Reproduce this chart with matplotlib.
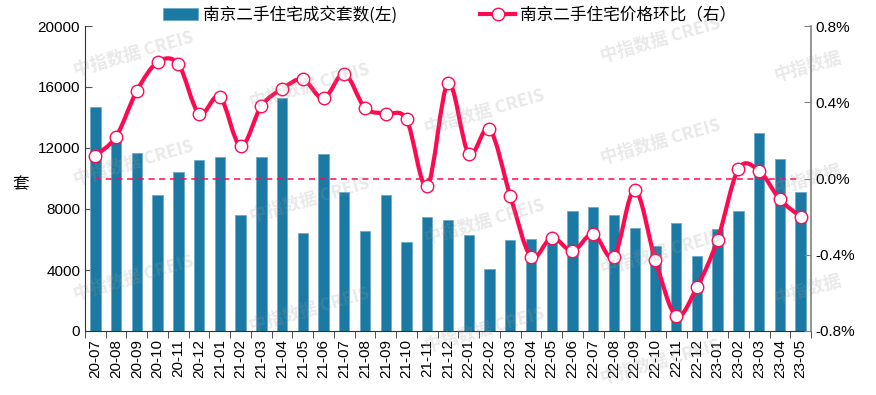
import numpy as np
import matplotlib.pyplot as plt
from matplotlib.path import Path
from matplotlib.patches import PathPatch, Patch
from matplotlib.lines import Line2D

months = ['20-07', '20-08', '20-09', '20-10', '20-11', '20-12',
          '21-01', '21-02', '21-03', '21-04', '21-05', '21-06',
          '21-07', '21-08', '21-09', '21-10', '21-11', '21-12',
          '22-01', '22-02', '22-03', '22-04', '22-05', '22-06',
          '22-07', '22-08', '22-09', '22-10', '22-11', '22-12',
          '23-01', '23-02', '23-03', '23-04', '23-05']

# 成交套数 (left axis)
volume = [14700, 12500, 11700, 8950, 10400, 11200,
          11400, 7600, 11400, 15300, 6400, 11600,
          9100, 6550, 8950, 5850, 7500, 7300,
          6300, 4050, 5950, 6050, 5950, 7850,
          8150, 7600, 6750, 5600, 7050, 4900,
          6700, 7850, 13000, 11300, 9100]

# 价格环比 % (right axis)
price_mom = [0.12, 0.22, 0.46, 0.61, 0.60, 0.34,
             0.43, 0.17, 0.38, 0.47, 0.52, 0.42,
             0.55, 0.37, 0.34, 0.31, -0.04, 0.50,
             0.13, 0.26, -0.09, -0.41, -0.31, -0.38,
             -0.29, -0.41, -0.06, -0.43, -0.72, -0.57,
             -0.32, 0.05, 0.04, -0.11, -0.20]

left_ticks = [0, 4000, 8000, 12000, 16000, 20000]
right_ticks = [-0.8, -0.4, 0.0, 0.4, 0.8]

bar_label = '南京二手住宅成交套数(左)'
line_label = '南京二手住宅价格环比（右）'

BAR_COLOR = '#1a7aa4'
LINE_COLOR = '#ff0a50'

plt.rcParams['font.family'] = ['Liberation Sans', 'Noto Sans CJK SC', 'DejaVu Sans']


def smooth_path(xs, ys):
    # excel style smoothed line, cubic bezier through every point
    pts = list(zip(xs, ys))
    verts = [pts[0]]
    codes = [Path.MOVETO]
    n = len(pts)
    for i in range(n - 1):
        p0 = pts[i - 1] if i > 0 else pts[i]
        p1 = pts[i]
        p2 = pts[i + 1]
        p3 = pts[i + 2] if i + 2 < n else pts[i + 1]
        c1 = (p1[0] + (p2[0] - p0[0]) / 6, p1[1] + (p2[1] - p0[1]) / 6)
        c2 = (p2[0] - (p3[0] - p1[0]) / 6, p2[1] - (p3[1] - p1[1]) / 6)
        verts += [c1, c2, p2]
        codes += [Path.CURVE4] * 3
    return Path(verts, codes)


fig = plt.figure(figsize=(8.76, 3.95), dpi=100)
ax = fig.add_axes([85 / 876, 1 - 331 / 395, (811 - 85) / 876, (331 - 26) / 395])
ax2 = ax.twinx()

x = np.arange(len(months))
ax.bar(x, volume, width=0.5, color=BAR_COLOR, edgecolor='#6fa9c6', linewidth=0.6, zorder=2)
ax.set_xlim(-0.5, len(months) - 0.5)
ax.set_ylim(0, 20000)
ax.set_yticks(left_ticks)
ax.set_yticklabels([str(v) for v in left_ticks], fontsize=11)
ax.set_xticks(x)
ax.set_xticklabels(months, rotation=90, fontsize=11)
ax.set_xticks(np.arange(-0.5, len(months)), minor=True)
ax.tick_params(axis='x', which='major', length=0, pad=6)
ax.tick_params(axis='x', which='minor', length=5, direction='out', color='#333333')
ax.tick_params(axis='y', length=5, direction='in', color='#555555')
for s in ['top', 'right']:
    ax.spines[s].set_visible(False)
ax.spines['left'].set_color('#333333')
ax.spines['bottom'].set_color('#333333')

ax2.set_ylim(-0.8, 0.8)
ax2.set_yticks(right_ticks)
ax2.set_yticklabels(['%.1f%%' % v for v in right_ticks], fontsize=11)
ax2.tick_params(axis='y', length=5, direction='in', color='#808080')
for s in ['top', 'left', 'bottom']:
    ax2.spines[s].set_visible(False)
ax2.spines['right'].set_color('#808080')
ax2.spines['right'].set_linewidth(1.2)

ax2.plot([x[0], x[-1]], [0, 0], color=LINE_COLOR, linestyle=(0, (4, 3)), linewidth=1.1, zorder=3)
ax2.add_patch(PathPatch(smooth_path(x, price_mom), facecolor='none', edgecolor=LINE_COLOR,
                        linewidth=3, capstyle='round', joinstyle='round', zorder=4))
ax2.plot(x, price_mom, linestyle='none', marker='o', markersize=9, markerfacecolor='white',
         markeredgecolor=LINE_COLOR, markeredgewidth=1, zorder=5)

handles = [Patch(facecolor=BAR_COLOR, edgecolor='#6fa9c6', linewidth=0.6),
           Line2D([0], [0], color=LINE_COLOR, linewidth=3, marker='o', markersize=9,
                  markerfacecolor='white', markeredgecolor=LINE_COLOR)]
fig.legend(handles, [bar_label, line_label], loc='center', bbox_to_anchor=(0.513, 1 - 15 / 395),
           ncol=2, frameon=False, handlelength=2.1, handletextpad=0.3,
           columnspacing=5.0, prop={'family': ['Noto Sans CJK SC'], 'size': 12})

fig.text(12 / 876, 1 - 185 / 395, '套', fontsize=12, family=['Noto Sans CJK SC'],
         ha='left', va='center')

# watermark
marks = [(134, 54, True), (134, 163, True), (134, 278, True),
         (310, 86, True), (310, 200, True), (310, 310, True),
         (485, 112, True), (485, 222, True), (485, 330, True),
         (661, 40, True), (661, 142, True), (661, 253, True), (661, 362, True),
         (808, 67, False), (808, 180, False), (808, 290, False)]
for mx, my, full in marks:
    fig.text(mx / 876, 1 - my / 395, '中指数据 CREIS' if full else '中指数据',
             fontsize=12.5, fontweight='bold', color='#999999', alpha=0.22, rotation=16,
             ha='center', va='center', family=['Noto Sans CJK SC'], zorder=10)

fig.savefig('out.png', dpi=100)
